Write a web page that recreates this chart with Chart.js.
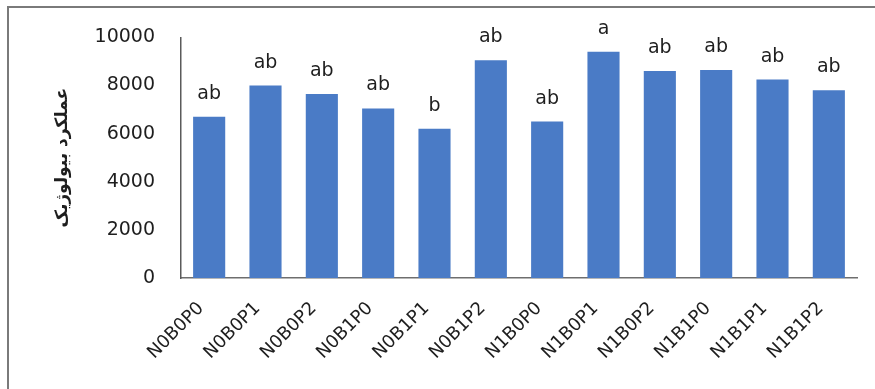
<!DOCTYPE html>
<html>
<head>
<meta charset="utf-8">
<script src="https://cdn.jsdelivr.net/npm/chart.js@4.4.0/dist/chart.umd.min.js"></script>
<style>
  html, body { margin: 0; padding: 0; background: #ffffff; }
  #wrap { width: 875px; height: 389px; }
</style>
</head>
<body>
<div id="wrap"><canvas id="c" width="875" height="389"></canvas></div>
<script>
// Treatment combinations
const categories = ['N0B0P0', 'N0B0P1', 'N0B0P2', 'N0B1P0', 'N0B1P1', 'N0B1P2',
                    'N1B0P0', 'N1B0P1', 'N1B0P2', 'N1B1P0', 'N1B1P1', 'N1B1P2'];
// Biological yield per treatment
const yieldValues = [6700, 8000, 7650, 7050, 6200, 9050, 6500, 9400, 8600, 8650, 8250, 7800];
// Mean-comparison letters shown above each bar
const groupLetters = ['ab', 'ab', 'ab', 'ab', 'b', 'ab', 'ab', 'a', 'ab', 'ab', 'ab', 'ab'];
// Value axis ticks
const yTicks = [0, 2000, 4000, 6000, 8000, 10000];

const textColor = '#1e1e1e';
const fontFamily = '"DejaVu Sans", sans-serif';

// Outer frame (top and left edges) and white background
const framePlugin = {
  id: 'frame',
  beforeDraw(chart) {
    const ctx = chart.ctx;
    ctx.save();
    ctx.fillStyle = '#ffffff';
    ctx.fillRect(0, 0, chart.width, chart.height);
    ctx.strokeStyle = '#7a7a7a';
    ctx.lineWidth = 2;
    ctx.beginPath();
    ctx.moveTo(8, chart.height);
    ctx.lineTo(8, 7);
    ctx.lineTo(chart.width, 7);
    ctx.stroke();
    ctx.restore();
  }
};

// Letters above bars
const letterPlugin = {
  id: 'letters',
  afterDatasetsDraw(chart) {
    const ctx = chart.ctx;
    const meta = chart.getDatasetMeta(0);
    ctx.save();
    ctx.fillStyle = textColor;
    ctx.font = '19px ' + fontFamily;
    ctx.textAlign = 'center';
    ctx.textBaseline = 'alphabetic';
    meta.data.forEach((bar, i) => {
      ctx.fillText(groupLetters[i], bar.x, bar.y - 18);
    });
    ctx.restore();
  }
};

new Chart(document.getElementById('c'), {
  type: 'bar',
  data: {
    labels: categories,
    datasets: [{
      data: yieldValues,
      backgroundColor: '#4a7bc6',
      borderWidth: 0,
      categoryPercentage: 1.0,
      barPercentage: 0.57
    }]
  },
  options: {
    responsive: false,
    animation: false,
    layout: { padding: { left: 8, top: 37, right: 18, bottom: 0 } },
    plugins: {
      legend: { display: false },
      tooltip: { enabled: false }
    },
    scales: {
      x: {
        grid: { display: false, drawTicks: false },
        border: { display: true, color: '#6e6e6e', width: 1.5 },
        ticks: {
          color: textColor,
          font: { family: fontFamily, size: 18 },
          minRotation: 45,
          maxRotation: 45,
          padding: 20,
          labelOffset: -8,
          autoSkip: false
        },
        afterFit(scale) { scale.height = 111; }
      },
      y: {
        min: 0,
        max: 10000,
        afterBuildTicks(scale) { scale.ticks = yTicks.map(v => ({ value: v })); },
        grid: { display: false, drawTicks: false },
        border: { display: true, color: '#5a5a5a', width: 1.5 },
        ticks: {
          color: textColor,
          font: { family: fontFamily, size: 19 },
          padding: 26,
          callback: (v) => String(v)
        },
        title: {
          display: true,
          text: 'عملکرد بیولوژیک',
          color: textColor,
          font: { family: fontFamily, size: 17, weight: 'bold' },
          padding: { top: 44, bottom: 0 }
        },
        afterFit(scale) { scale.width = 173; }
      }
    }
  },
  plugins: [framePlugin, letterPlugin]
});
</script>
</body>
</html>
